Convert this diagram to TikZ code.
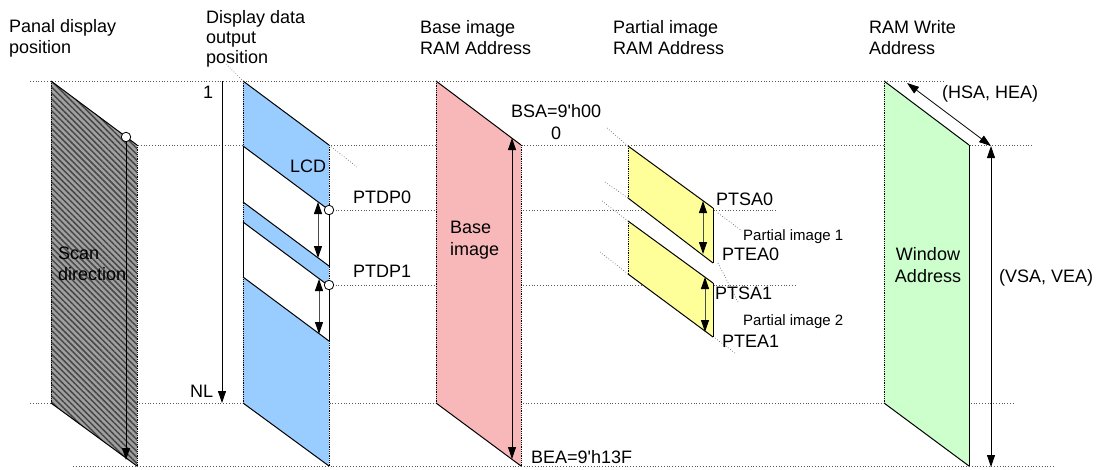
\documentclass[tikz,border=0pt]{standalone}
\usepackage{fontspec}
\setmainfont{Liberation Sans}
\usetikzlibrary{patterns.meta,arrows.meta}
\definecolor{lcdblue}{HTML}{99CCFF}
\definecolor{basepink}{HTML}{F8B8BA}
\definecolor{partyellow}{HTML}{FFFF99}
\definecolor{wingreen}{HTML}{CCFFCC}
\definecolor{hatchgray}{HTML}{A0A0A0}
\begin{document}
\begin{tikzpicture}[x=1pt,y=-1pt,
  lbl/.style={font=\fontsize{18}{21}\selectfont, inner sep=0pt, anchor=base west},
  sm/.style={font=\fontsize{15}{18}\selectfont, inner sep=0pt, anchor=base west},
  guide/.style={draw=black!65, dotted, line width=0.8pt},
  leader/.style={draw=black!60, dotted, line width=0.7pt},
  slant/.style={draw=black, line width=1pt},
  vedge/.style={draw=black, densely dotted, line width=0.8pt},
  sedge/.style={draw=black, line width=0.8pt},
  darr/.style={line width=0.8pt, {Triangle[length=12pt,width=8pt]}-{Triangle[length=12pt,width=8pt]}},
  garr/.style={draw=gray!60!black, line width=0.9pt, {Triangle[length=12pt,width=8pt,color=black]}-{Triangle[length=12pt,width=8pt,color=black]}},
  sarr/.style={line width=0.8pt, -{Triangle[length=12pt,width=8pt]}},
  dotc/.style={circle, draw=black, fill=white, inner sep=0pt, minimum size=9.5pt, line width=0.8pt}
]
\useasboundingbox (0,0) rectangle (1098,469);

% guide lines
\draw[guide] (30,81) -- (945,81);
\draw[guide] (138,145) -- (1032,145);
\draw[guide] (330,210) -- (777,210);
\draw[guide] (330,285) -- (795,285);
\draw[guide] (30,403) -- (1015,403);
\draw[guide] (73,466) -- (1055,466);

% titles
\node[lbl] (pd1) at (9,32) {Panal display};
\node[lbl] (pd2) at (9,53) {position};
\node[lbl] (dd1) at (206,23) {Display data};
\node[lbl] (dd2) at (206,43) {output};
\node[lbl] (dd3) at (206,63) {position};
\node[lbl] (bi1) at (420,33) {Base image};
\node[lbl] (bi2) at (420,54) {RAM Address};
\node[lbl] (pi1) at (613,33) {Partial image};
\node[lbl] (pi2) at (613,54) {RAM Address};
\node[lbl] (rw1) at (869,33) {RAM Write};
\node[lbl] (rw2) at (869,54) {Address};

% ---- panel 1: scan (hatched)
\fill[hatchgray, postaction={pattern={Lines[angle=-45,distance=4.2pt,line width=1.5pt]}, pattern color=black!72}]
  (51,81) -- (137,145) -- (137,466) -- (51,403) -- cycle;
\draw[slant] (51,81) -- (137,145);
\draw[slant] (51,403) -- (137,466);
\draw[vedge] (51,81) -- (51,403);
\draw[vedge] (137,145) -- (137,466);
\coordinate (scanTop) at (126,137);
\coordinate (scanBot) at (126,460);
\draw[sarr] (scanTop) -- (scanBot);
\node[dotc] (scanDot) at (scanTop) {};
\node[lbl] (scan1) at (58,259) {Scan};
\node[lbl] (scan2) at (58,280) {direction};

% ---- panel 2: LCD (blue)
\coordinate (lcdTop) at (222,81);
\coordinate (lcdBot) at (222,403);
\draw[sarr] (lcdTop) -- (lcdBot);
\node[lbl] (one) at (203,98) {1};
\node[lbl] (nl) at (190,397) {NL};
\draw[leader] (226,64) -- (243,81);
\fill[lcdblue] (243,81) -- (329,145) -- (329,466) -- (243,403) -- cycle;
\fill[white] (243,146) -- (329,210) -- (329,266) -- (243,202) -- cycle;
\fill[white] (243,222) -- (329,286) -- (329,341) -- (243,277) -- cycle;
\draw[slant] (243,81) -- (329,145);
\draw[slant] (243,146) -- (329,210);
\draw[slant] (243,202) -- (329,266);
\draw[slant] (243,222) -- (329,286);
\draw[slant] (243,277) -- (329,341);
\draw[slant] (243,403) -- (329,466);
\draw[vedge] (243,81) -- (243,403);
\draw[vedge] (329,145) -- (329,466);
\draw[sedge] (329,210) -- (329,266);
\draw[sedge] (329,286) -- (329,341);
\draw[sedge] (243,146) -- (243,202);
\draw[sedge] (243,222) -- (243,277);
\coordinate (p0a) at (318,202);
\coordinate (p0b) at (318,258);
\coordinate (p1a) at (319,279);
\coordinate (p1b) at (319,334);
\draw[garr] (p0a) -- (p0b);
\draw[garr] (p1a) -- (p1b);
\node[dotc] (ptdp0dot) at (329,210) {};
\node[dotc] (ptdp1dot) at (329,285) {};
\draw[leader] (329,145) -- (357,167);
\node[lbl] (lcd) at (290,172) {LCD};
\node[lbl] (ptdp0) at (353,203) {PTDP0};
\node[lbl] (ptdp1) at (353,277) {PTDP1};

% ---- panel 3: base image (pink)
\fill[basepink] (436,81) -- (521,145) -- (521,466) -- (436,403) -- cycle;
\draw[slant] (436,81) -- (521,145);
\draw[slant] (436,403) -- (521,466);
\draw[vedge] (436,81) -- (436,403);
\draw[vedge] (521,145) -- (521,466);
\coordinate (bsa) at (512,138);
\coordinate (bea) at (512,459);
\draw[darr] (bsa) -- (bea);
\node[lbl] (base1) at (450,233) {Base};
\node[lbl] (base2) at (450,255) {image};
\node[lbl] (bsal) at (511,117) {BSA=9\textquotesingle h00};
\node[lbl] (zero) at (551,139) {0};
\node[lbl] (beal) at (531,463) {BEA=9\textquotesingle h13F};

% ---- panel 4: partial images (yellow)
\draw[leader] (607,128) -- (628,146);
\draw[leader] (605,182) -- (628,198);
\draw[leader] (602,201) -- (628,221);
\draw[leader] (600,252) -- (628,274);
\draw[leader] (718,213) -- (742,231);
\draw[leader] (718,263) -- (738,302);
\draw[leader] (715,338) -- (735,353);
\fill[partyellow] (628,146) -- (713,208) -- (713,263) -- (628,198) -- cycle;
\fill[partyellow] (628,221) -- (713,283) -- (713,337) -- (628,274) -- cycle;
\draw[slant] (628,146) -- (713,208);
\draw[slant] (628,198) -- (713,263);
\draw[slant] (628,221) -- (713,283);
\draw[slant] (628,274) -- (713,337);
\draw[vedge] (628,146) -- (628,198);
\draw[vedge] (628,221) -- (628,274);
\draw[sedge] (713,208) -- (713,263);
\draw[sedge] (713,283) -- (713,337);
\coordinate (ptsa0) at (703,201);
\coordinate (ptea0) at (703,254);
\coordinate (ptsa1) at (705,277);
\coordinate (ptea1) at (705,332);
\draw[garr] (ptsa0) -- (ptea0);
\draw[garr] (ptsa1) -- (ptea1);
\node[lbl] (ptsa0l) at (716,205) {PTSA0};
\node[sm] (pim1) at (743,240) {Partial image 1};
\node[lbl] (ptea0l) at (722,260) {PTEA0};
\node[lbl] (ptsa1l) at (715,299) {PTSA1};
\node[sm] (pim2) at (743,325) {Partial image 2};
\node[lbl] (ptea1l) at (722,347) {PTEA1};

% ---- panel 5: window (green)
\fill[wingreen] (884,81) -- (969,145) -- (969,466) -- (884,403) -- cycle;
\draw[slant] (884,81) -- (969,145);
\draw[slant] (884,403) -- (969,466);
\draw[vedge] (884,81) -- (884,403);
\draw[sedge] (969,145) -- (969,466);
\coordinate (hsa) at (907,83);
\coordinate (hea) at (991,146);
\draw[darr] (hsa) -- (hea);
\coordinate (vsa) at (991,146);
\coordinate (vea) at (991,467);
\draw[darr] (vsa) -- (vea);
\node[lbl] (hsal) at (942,98) {(HSA, HEA)};
\node[lbl, anchor=base] (win1) at (928,260) {Window};
\node[lbl, anchor=base] (win2) at (928,282) {Address};
\node[lbl] (vsal) at (999,282) {(VSA, VEA)};
\end{tikzpicture}
\end{document}
